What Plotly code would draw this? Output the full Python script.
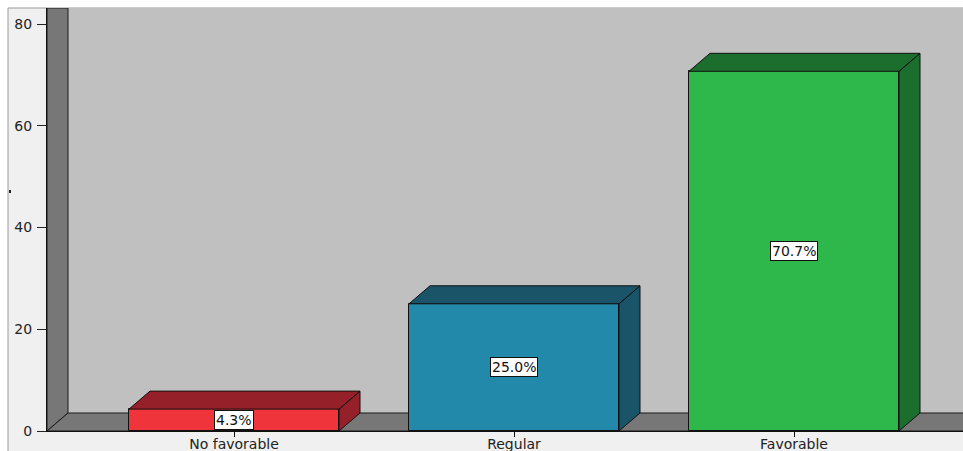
import plotly.graph_objects as go

categories = ["No favorable", "Regular", "Favorable"]
percentages = [4.3, 25.0, 70.7]
y_ticks = [0, 20, 40, 60, 80]

front_colors = ["#f0343c", "#2389ab", "#2eb84b"]
dark_colors = ["#96202a", "#195468", "#1c6e2e"]

W, H = 963, 451
ML, MR, MT, MB = 47, 0, 8, 20
PW, PH = W - ML - MR, H - MT - MB

# axis scales (px per unit)
x_px = 280.0
y_px = 5.0875
x_lo = -(234 - ML) / x_px
x_hi = x_lo + PW / x_px
y_hi = PH / y_px

bar_w = 210 / x_px
dx = 21 / x_px
dy = 18 / y_px

fig = go.Figure()
xs = list(range(len(categories)))

fig.add_trace(go.Bar(
    x=xs, y=percentages, width=bar_w,
    marker=dict(color=front_colors, line=dict(color="#111111", width=1)),
    hoverinfo="skip", showlegend=False,
))

for i, v in enumerate(percentages):
    l, r = i - bar_w / 2, i + bar_w / 2
    # side face
    fig.add_trace(go.Scatter(
        x=[r, r + dx, r + dx, r, r], y=[0, dy, v + dy, v, 0],
        mode="lines", fill="toself", fillcolor=dark_colors[i],
        line=dict(color="#111111", width=1), hoverinfo="skip", showlegend=False))
    # top face
    fig.add_trace(go.Scatter(
        x=[l, l + dx, r + dx, r, l], y=[v, v + dy, v + dy, v, v],
        mode="lines", fill="toself", fillcolor=dark_colors[i],
        line=dict(color="#111111", width=1), hoverinfo="skip", showlegend=False))

annotations = []
for i, v in enumerate(percentages):
    annotations.append(dict(
        x=i, y=v / 2, xref="x", yref="y", text=f"{v:.1f}%", showarrow=False,
        font=dict(family="DejaVu Sans", size=14, color="#111111"),
        bgcolor="white", bordercolor="#111111", borderwidth=1, borderpad=1))

def px2paper_x(p):
    return (p - ML) / PW

def px2paper_y(p):
    return (H - MB - p) / PH

shapes = [
    # outer frame
    dict(type="rect", xref="paper", yref="paper",
         x0=px2paper_x(8), x1=px2paper_x(W + 5), y0=px2paper_y(H + 5), y1=px2paper_y(8),
         fillcolor="#f0f0f0", line=dict(color="#9a9a9a", width=1), layer="below"),
    # tiny mark on left
    dict(type="rect", xref="paper", yref="paper",
         x0=px2paper_x(9), x1=px2paper_x(11), y0=px2paper_y(193), y1=px2paper_y(190),
         fillcolor="#222222", line=dict(width=0), layer="below"),
    # back wall
    dict(type="rect", xref="x", yref="y", layer="below",
         x0=x_lo, x1=x_hi + 1, y0=0, y1=y_hi + 1,
         fillcolor="#c0c0c0", line=dict(width=0)),
    # left wall
    dict(type="path", xref="x", yref="y", layer="below",
         path=f"M {x_lo},0 L {x_lo},{y_hi} L {x_lo+dx},{y_hi} L {x_lo+dx},{dy} Z",
         fillcolor="#777777", line=dict(color="#1a1a1a", width=1)),
    # floor
    dict(type="path", xref="x", yref="y", layer="below",
         path=f"M {x_lo},0 L {x_lo+dx},{dy} L {x_hi+1},{dy} L {x_hi+1},0 Z",
         fillcolor="#777777", line=dict(color="#1a1a1a", width=1)),
]

fig.update_layout(
    width=W, height=H,
    margin=dict(l=ML, r=MR, t=MT, b=MB, pad=0, autoexpand=False),
    paper_bgcolor="white", plot_bgcolor="#c0c0c0",
    bargap=0, showlegend=False,
    annotations=annotations, shapes=shapes,
    xaxis=dict(range=[x_lo, x_hi], tickvals=xs, ticktext=categories,
               ticks="outside", ticklen=5, tickcolor="#111111", tickwidth=1,
               showgrid=False, zeroline=False, showline=True, linecolor="#111111",
               tickfont=dict(family="DejaVu Sans", size=14, color="#222222"),
               ticklabelstandoff=-5, automargin=False, fixedrange=True),
    yaxis=dict(range=[0, y_hi], tickvals=y_ticks,
               ticks="outside", ticklen=9, tickcolor="#222222", tickwidth=1,
               showgrid=False, zeroline=False, showline=True, linecolor="#111111",
               tickfont=dict(family="DejaVu Sans", size=14, color="#222222"),
               ticklabelstandoff=2, automargin=False, fixedrange=True),
)

fig.write_html("out.html", config={"displayModeBar": False})
